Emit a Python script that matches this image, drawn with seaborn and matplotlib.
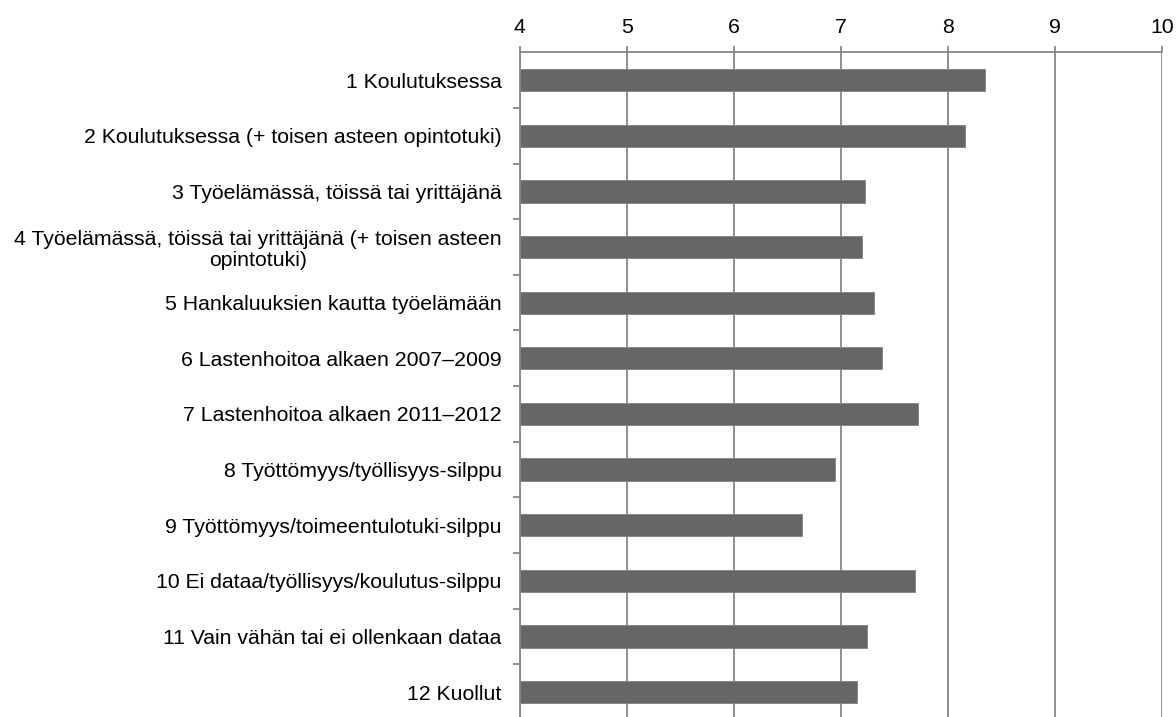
import matplotlib
matplotlib.use("Agg")
from matplotlib import pyplot as plt
import seaborn as sns
import pandas as pd
import numpy as np

# luokat ja arvot
categories = [
    "1 Koulutuksessa",
    "2 Koulutuksessa (+ toisen asteen opintotuki)",
    "3 Työelämässä, töissä tai yrittäjänä",
    "4 Työelämässä, töissä tai yrittäjänä (+ toisen asteen\nopintotuki)",
    "5 Hankaluuksien kautta työelämään",
    "6 Lastenhoitoa alkaen 2007–2009",
    "7 Lastenhoitoa alkaen 2011–2012",
    "8 Työttömyys/työllisyys-silppu",
    "9 Työttömyys/toimeentulotuki-silppu",
    "10 Ei dataa/työllisyys/koulutus-silppu",
    "11 Vain vähän tai ei ollenkaan dataa",
    "12 Kuollut",
]
values = [8.35, 8.16, 7.23, 7.20, 7.31, 7.38, 7.72, 6.95, 6.64, 7.69, 7.24, 7.15]
x_ticks = [4, 5, 6, 7, 8, 9, 10]

df = pd.DataFrame({"category": categories, "value": values})

sns.set_style("white")
plt.rcParams["font.family"] = ["Liberation Sans", "DejaVu Sans"]
plt.rcParams["text.color"] = "black"
plt.rcParams["xtick.color"] = "black"
plt.rcParams["ytick.color"] = "black"

grid_col = "#878787"
fig, ax = plt.subplots(figsize=(11.76, 7.17), dpi=100)
fig.subplots_adjust(left=0.442, right=0.988, top=0.927, bottom=-0.004)

sns.barplot(data=df, x="value", y="category", orient="h", color="#666666",
            width=0.4, saturation=1, edgecolor="#808080", linewidth=0.6, ax=ax)

ax.set_xlim(4, 10)
ax.set_ylim(len(categories) - 0.5, -0.5)
ax.set_xticks(x_ticks)
ax.xaxis.tick_top()
ax.set_xlabel("")
ax.set_ylabel("")
ax.set_axisbelow(True)
ax.grid(axis="x", color=grid_col, linewidth=1.3)
ax.grid(axis="y", visible=False)

for side in ["right", "bottom"]:
    ax.spines[side].set_visible(False)
for side in ["top", "left"]:
    ax.spines[side].set_color(grid_col)
    ax.spines[side].set_linewidth(1.3)

ax.tick_params(axis="x", top=True, length=4, color=grid_col, width=1.3,
               labelsize=15.3, pad=7, labelcolor="black")
ax.tick_params(axis="y", which="major", length=0, labelsize=15.3, pad=13,
               labelcolor="black")
ax.set_yticks(np.arange(len(categories)) + 0.5, minor=True)
ax.tick_params(axis="y", which="minor", left=True, length=5, color=grid_col, width=1.3)

for lbl in ax.get_yticklabels():
    lbl.set_multialignment("center")
    lbl.set_linespacing(1.12)

plt.savefig("out.png", dpi=100)
